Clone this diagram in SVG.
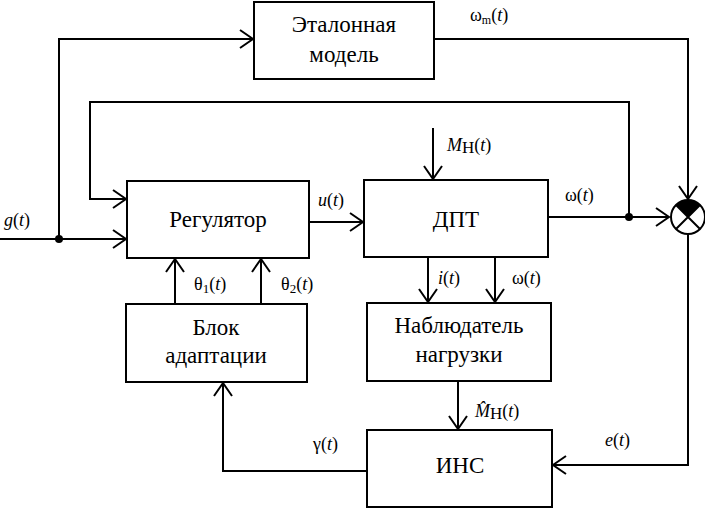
<svg xmlns="http://www.w3.org/2000/svg" width="705" height="509" viewBox="0 0 705 509">
<style>
.box{fill:#fff;stroke:#000;stroke-width:2}
.ln{fill:none;stroke:#000;stroke-width:2}
.bt{font-family:Liberation Serif, serif;font-size:23px;text-anchor:middle;fill:#000}
.lb{font-family:Liberation Serif, serif;font-size:18px;fill:#000}
.it{font-style:italic}
</style>
<defs>
<marker id="arr" markerUnits="userSpaceOnUse" markerWidth="30" markerHeight="30" viewBox="-15 -15 30 30" refX="0" refY="0" orient="auto">
<path d="M-13,-9 L0,0 L-13,9" fill="none" stroke="#000" stroke-width="2"/>
</marker>
</defs>
<rect width="705" height="509" fill="#fff"/>
<g id="connectors">
<path class="ln" d="M0,239 H126" marker-end="url(#arr)"/>
<path class="ln" d="M59,239 V39 H253" marker-end="url(#arr)"/>
<path class="ln" d="M434,39 H688 V199" marker-end="url(#arr)"/>
<path class="ln" d="M629,217 V102 H90 V199 H126" marker-end="url(#arr)"/>
<path class="ln" d="M309,222 H363" stroke-width="3" marker-end="url(#arr)"/>
<path class="ln" d="M548,217 H669" marker-end="url(#arr)"/>
<path class="ln" d="M433,128 V179" marker-end="url(#arr)"/>
<path class="ln" d="M428,257 V302" marker-end="url(#arr)"/>
<path class="ln" d="M495,257 V302" marker-end="url(#arr)"/>
<path class="ln" d="M458,381 V429" marker-end="url(#arr)"/>
<path class="ln" d="M688,234 V465 H553" marker-end="url(#arr)"/>
<path class="ln" d="M367,471 H223 V383" marker-end="url(#arr)"/>
<path class="ln" d="M175,304 V259" marker-end="url(#arr)"/>
<path class="ln" d="M261,304 V259" marker-end="url(#arr)"/>
<circle cx="59" cy="239" r="4" fill="#000"/>
<circle cx="629" cy="217" r="4" fill="#000"/>
</g>
<g id="sum">
<circle cx="688" cy="217" r="17" fill="#fff" stroke="#000" stroke-width="2"/>
<path d="M688,217 L676,205 A17,17 0 0 1 700,205 Z" fill="#000"/>
<path class="ln" d="M676,205 L700,229 M700,205 L676,229"/>
</g>
<g id="etalon">
<rect class="box" x="254" y="2" width="180" height="77"/>
<text class="bt" x="344" y="32">Эталонная</text>
<text class="bt" x="344" y="62">модель</text>
</g>
<g id="regulator">
<rect class="box" x="127" y="181" width="182" height="77"/>
<text class="bt" x="218" y="227">Регулятор</text>
</g>
<g id="dpt">
<rect class="box" x="364" y="180" width="184" height="77"/>
<text class="bt" x="456" y="227">ДПТ</text>
</g>
<g id="adapt">
<rect class="box" x="126" y="304" width="181" height="78"/>
<text class="bt" x="216" y="335">Блок</text>
<text class="bt" x="216" y="363">адаптации</text>
</g>
<g id="observer">
<rect class="box" x="367" y="303" width="184" height="78"/>
<text class="bt" x="459" y="333">Наблюдатель</text>
<text class="bt" x="459" y="362">нагрузки</text>
</g>
<g id="ins">
<rect class="box" x="367" y="430" width="185" height="77"/>
<text class="bt" x="460" y="473">ИНС</text>
</g>
<g id="labels">
<text class="lb" x="470" y="21">ω<tspan font-size="12" dy="3">m</tspan><tspan dy="-3">(</tspan><tspan class="it">t</tspan>)</text>
<text class="lb" x="565" y="201">ω(<tspan class="it">t</tspan>)</text>
<text class="lb" x="447" y="151" font-size="24"><tspan class="it">M</tspan><tspan font-size="17" dy="2">Н</tspan><tspan dy="-2">(</tspan><tspan class="it">t</tspan>)</text>
<text class="lb" x="318" y="206"><tspan class="it">u</tspan>(<tspan class="it">t</tspan>)</text>
<text class="lb" x="4" y="226" font-size="20"><tspan class="it">g</tspan>(<tspan class="it">t</tspan>)</text>
<text class="lb" x="438" y="284"><tspan class="it">i</tspan>(<tspan class="it">t</tspan>)</text>
<text class="lb" x="512" y="284">ω(<tspan class="it">t</tspan>)</text>
<text class="lb" x="194" y="290">θ<tspan font-size="13" dy="3">1</tspan><tspan dy="-3">(</tspan><tspan class="it">t</tspan>)</text>
<text class="lb" x="281" y="290">θ<tspan font-size="13" dy="3">2</tspan><tspan dy="-3">(</tspan><tspan class="it">t</tspan>)</text>
<text class="lb" x="475" y="417" font-size="24"><tspan class="it">M̂</tspan><tspan font-size="17" dy="2">Н</tspan><tspan dy="-2">(</tspan><tspan class="it">t</tspan>)</text>
<text class="lb" x="605" y="446"><tspan class="it">e</tspan>(<tspan class="it">t</tspan>)</text>
<text class="lb" x="313" y="450">γ(<tspan class="it">t</tspan>)</text>
</g>
</svg>
